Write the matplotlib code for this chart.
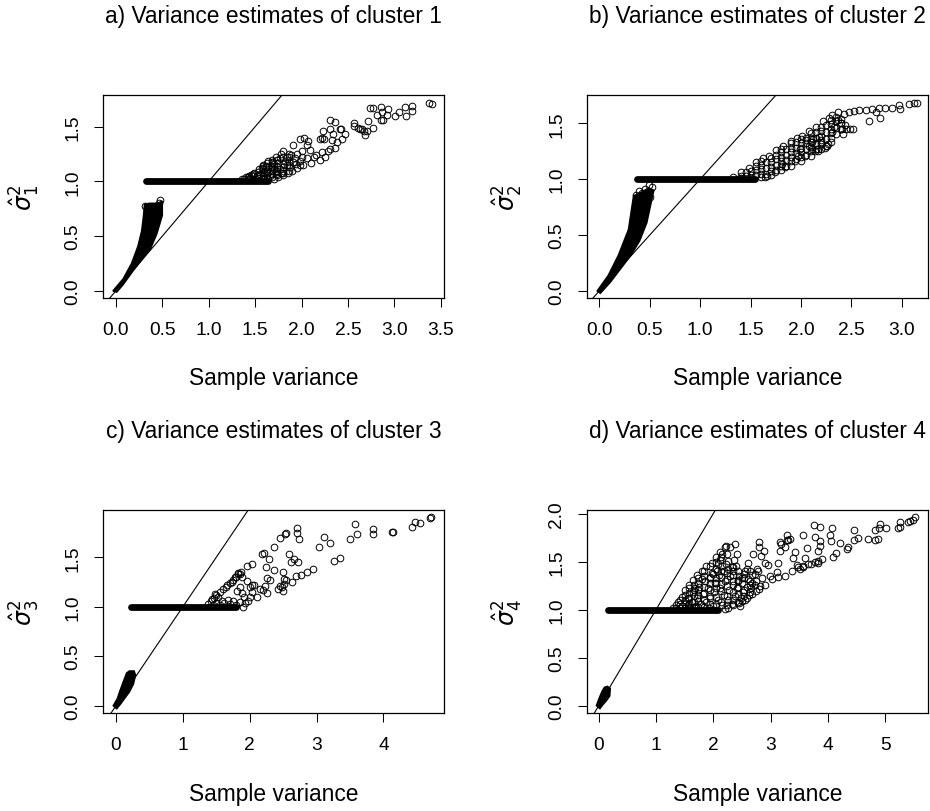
import matplotlib
matplotlib.use("Agg")
from matplotlib import pyplot as plt
from matplotlib.ticker import FormatStrFormatter

plt.rcParams['font.family'] = ['Liberation Sans', 'DejaVu Sans']

# ---- cluster 1 ----
a_x = [3.40, 3.37, 3.19, 3.19, 3.11, 3.12, 3.05, 3.01, 2.93, 2.92, 2.85, 2.87, 2.85, 2.77, 2.74,
       2.81, 2.88, 2.77, 2.72, 2.68, 2.67, 2.65, 2.61, 2.56, 2.36, 2.31, 2.41, 2.47, 2.34, 2.31,
       2.23, 2.20, 2.22, 2.33, 2.43, 2.38, 2.36, 2.31, 2.28, 2.22, 2.16, 2.07, 1.98, 2.03, 2.06,
       2.09, 2.00, 1.95, 1.91, 1.89, 1.84, 1.80, 1.78, 1.77, 1.73, 1.70, 1.64, 1.59, 1.54, 1.49,
       1.43, 1.40, 1.70, 1.77, 1.84, 1.91, 1.98, 2.06, 2.13, 1.98, 1.66, 1.73, 1.63, 1.55, 1.52,
       1.70, 1.75, 1.80, 1.85, 1.90, 1.95, 2.02, 2.10, 2.20, 2.25, 1.36, 1.45, 1.50, 1.58, 1.60,
       1.46, 1.57, 1.62, 1.67, 1.68, 1.75, 1.82, 1.86, 1.93, 2.00, 1.88, 1.94, 1.80, 1.72, 1.78,
       2.42, 2.56, 2.63, 2.70, 2.24, 0.32, 0.34, 0.36, 0.46, 0.48]
a_y = [1.71, 1.72, 1.69, 1.64, 1.68, 1.60, 1.63, 1.60, 1.66, 1.61, 1.68, 1.63, 1.56, 1.67, 1.67,
       1.61, 1.56, 1.49, 1.55, 1.42, 1.46, 1.48, 1.49, 1.53, 1.54, 1.56, 1.48, 1.43, 1.43, 1.48,
       1.46, 1.39, 1.40, 1.38, 1.39, 1.36, 1.31, 1.30, 1.28, 1.27, 1.24, 1.37, 1.39, 1.40, 1.33,
       1.29, 1.28, 1.25, 1.33, 1.24, 1.22, 1.28, 1.25, 1.21, 1.22, 1.16, 1.19, 1.15, 1.11, 1.08,
       1.05, 1.04, 1.11, 1.11, 1.15, 1.18, 1.19, 1.21, 1.22, 1.15, 1.05, 1.07, 1.08, 1.07, 1.05,
       1.02, 1.04, 1.06, 1.08, 1.10, 1.12, 1.15, 1.17, 1.20, 1.22, 1.02, 1.03, 1.02, 1.03, 1.09,
       1.06, 1.12, 1.14, 1.13, 1.18, 1.17, 1.19, 1.25, 1.21, 1.22, 1.13, 1.16, 1.13, 1.09, 1.08,
       1.48, 1.51, 1.48, 1.46, 1.39, 0.78, 0.76, 0.74, 0.80, 0.83]
# crowded wedge just above the plateau
a_wedge_x = [1.38, 1.42, 1.42, 1.48, 1.48, 1.48, 1.53, 1.53, 1.53, 1.58, 1.58, 1.58, 1.58, 1.58,
             1.63, 1.63, 1.63, 1.63, 1.63, 1.68, 1.68, 1.68, 1.68, 1.68, 1.68, 1.74, 1.74, 1.74,
             1.74, 1.80, 1.80, 1.80, 1.80, 1.86, 1.86, 1.86, 1.86]
a_wedge_y = [1.02, 1.02, 1.04, 1.02, 1.05, 1.07, 1.03, 1.06, 1.09, 1.02, 1.05, 1.08, 1.11, 1.14,
             1.03, 1.06, 1.10, 1.13, 1.17, 1.04, 1.07, 1.10, 1.14, 1.17, 1.20, 1.06, 1.10, 1.13,
             1.20, 1.08, 1.10, 1.16, 1.22, 1.10, 1.15, 1.18, 1.22]
a_band_x = [-0.03, 0.08, 0.17, 0.24, 0.28, 0.30, 0.31, 0.36, 0.45, 0.50, 0.50, 0.44, 0.37, 0.30, 0.19, 0.08, 0.01]
a_band_y = [0.00, 0.11, 0.25, 0.41, 0.55, 0.69, 0.79, 0.80, 0.80, 0.82, 0.69, 0.52, 0.38, 0.31, 0.19, 0.06, -0.01]
a_flat = [0.33, 1.64]

# ---- cluster 2 ----
b_x = [1.33, 1.40, 1.48, 1.55, 1.62, 1.68, 1.75, 1.82, 1.90, 1.96, 2.01, 2.08, 2.15, 2.22, 2.28,
       2.31, 2.37, 2.43, 2.48, 2.53, 2.58, 2.64, 2.70, 2.77, 2.83, 2.90, 2.97, 3.07, 3.12, 3.15,
       1.64, 1.74, 1.84, 1.94, 2.04, 2.17,
       1.45, 1.45, 1.55, 1.55, 1.55, 1.65, 1.65, 1.65, 1.75, 1.75, 1.75, 1.75, 1.85, 1.85, 1.85,
       1.85, 1.95, 1.95, 1.95, 1.95, 2.05, 2.05, 2.05, 2.05, 2.15, 2.15, 2.15, 2.15, 2.25, 2.25,
       2.25, 2.25, 2.35, 2.35, 2.35, 2.35,
       1.66, 1.81, 1.97, 1.99, 2.11, 2.12, 2.27, 2.31, 2.42, 2.45, 2.52, 2.67, 2.78, 2.74, 2.98,
       2.26, 2.24, 2.14, 2.44, 2.41, 2.37, 2.40, 2.33, 2.20, 2.18, 2.08, 2.05, 2.49, 2.17, 2.11,
       0.36, 0.39, 0.42, 0.45, 0.49, 0.52, 0.37, 0.50]
b_y = [1.02, 1.06, 1.10, 1.15, 1.19, 1.21, 1.26, 1.30, 1.34, 1.37, 1.39, 1.43, 1.47, 1.52, 1.55,
       1.57, 1.60, 1.58, 1.60, 1.61, 1.62, 1.62, 1.63, 1.64, 1.64, 1.64, 1.66, 1.67, 1.68, 1.68,
       1.02, 1.06, 1.11, 1.16, 1.21, 1.25,
       1.03, 1.06, 1.04, 1.08, 1.12, 1.05, 1.10, 1.15, 1.08, 1.13, 1.18, 1.22, 1.12, 1.17, 1.22,
       1.27, 1.18, 1.23, 1.28, 1.33, 1.22, 1.27, 1.32, 1.37, 1.27, 1.32, 1.37, 1.42, 1.30, 1.36,
       1.42, 1.48, 1.40, 1.46, 1.52, 1.56,
       1.03, 1.14, 1.21, 1.27, 1.27, 1.36, 1.31, 1.42, 1.40, 1.45, 1.45, 1.52, 1.55, 1.60, 1.63,
       1.30, 1.28, 1.25, 1.48, 1.45, 1.53, 1.50, 1.47, 1.33, 1.38, 1.30, 1.35, 1.45, 1.27, 1.33,
       0.86, 0.89, 0.88, 0.91, 0.95, 0.93, 0.80, 0.84]
b_wedge_x = [1.40, 1.40, 1.50, 1.50, 1.50, 1.60, 1.60, 1.60, 1.60, 1.60, 1.70, 1.70, 1.70, 1.70,
             1.70, 1.80, 1.80, 1.80, 1.80, 1.80, 1.80, 1.90, 1.90, 1.90, 1.90, 1.90, 1.90, 2.00,
             2.00, 2.00, 2.00, 2.00, 2.00, 2.10, 2.10, 2.10, 2.10, 2.10, 2.10, 2.20, 2.20, 2.20,
             2.20, 2.20, 2.20, 2.30, 2.30, 2.30, 2.30, 2.30, 2.30, 2.40, 2.40, 2.40]
b_wedge_y = [1.01, 1.03, 1.01, 1.04, 1.07, 1.02, 1.05, 1.09, 1.13, 1.16, 1.04, 1.07, 1.11, 1.15,
             1.19, 1.08, 1.12, 1.16, 1.20, 1.24, 1.27, 1.12, 1.16, 1.20, 1.24, 1.28, 1.32, 1.16,
             1.20, 1.24, 1.28, 1.32, 1.36, 1.21, 1.25, 1.29, 1.33, 1.37, 1.41, 1.27, 1.31, 1.35,
             1.39, 1.43, 1.47, 1.33, 1.37, 1.41, 1.45, 1.49, 1.53, 1.45, 1.50, 1.54]
b_band_x = [-0.02, 0.09, 0.19, 0.29, 0.32, 0.34, 0.39, 0.49, 0.54, 0.52, 0.47, 0.40, 0.32, 0.22, 0.11, 0.01]
b_band_y = [0.00, 0.14, 0.32, 0.55, 0.73, 0.85, 0.87, 0.92, 0.90, 0.82, 0.61, 0.45, 0.33, 0.21, 0.08, -0.02]
b_flat = [0.37, 1.545]

# ---- cluster 3 ----
c_x = [4.71, 4.69, 4.55, 4.47, 4.42, 4.15, 4.13, 3.85, 3.85, 3.61, 3.58, 3.50, 3.35, 3.26, 3.20,
       3.11, 3.03, 2.94, 2.86, 2.77, 2.69, 2.73, 2.71, 2.71, 2.72, 2.66, 2.62, 2.59, 2.63, 2.55,
       2.53, 2.46, 2.36, 2.50, 2.51, 2.52, 2.48, 2.43, 2.37, 2.31, 2.26, 2.24, 2.29, 2.21, 2.19,
       2.03, 1.96, 2.23, 2.26, 2.20, 2.11, 2.03, 2.01, 1.96, 1.88, 1.83, 1.78, 1.73, 1.66, 1.81,
       1.88, 1.91, 1.98, 1.93, 1.90, 1.75, 1.67, 1.59, 1.53, 1.48, 1.43, 1.86, 2.03,
       1.38, 1.42, 1.46, 1.50, 1.55, 1.60, 1.64, 1.70, 1.75, 1.80, 1.85, 1.87, 1.82,
       1.45, 1.50, 1.56, 1.62, 1.70, 1.80, 1.85, 2.00, 2.16, 2.55, 2.50, 2.46, 2.07]
c_y = [1.905, 1.90, 1.85, 1.86, 1.81, 1.76, 1.76, 1.79, 1.73, 1.73, 1.84, 1.68, 1.49, 1.46, 1.64,
       1.70, 1.60, 1.38, 1.35, 1.32, 1.31, 1.68, 1.74, 1.80, 1.45, 1.48, 1.45, 1.53, 1.25, 1.74,
       1.73, 1.69, 1.60, 1.35, 1.28, 1.23, 1.20, 1.18, 1.37, 1.27, 1.29, 1.40, 1.48, 1.54, 1.53,
       1.43, 1.41, 1.21, 1.14, 1.17, 1.10, 1.15, 1.20, 1.26, 1.30, 1.33, 1.30, 1.25, 1.22, 1.16,
       1.14, 1.10, 1.06, 1.04, 1.00, 1.06, 1.07, 1.06, 1.10, 1.13, 1.08, 1.20, 1.22,
       1.03, 1.06, 1.09, 1.12, 1.15, 1.18, 1.20, 1.24, 1.27, 1.30, 1.33, 1.35, 1.34,
       1.02, 1.04, 1.02, 1.04, 1.03, 1.02, 1.05, 1.10, 1.18, 1.27, 1.16, 1.21, 1.22]
c_band_x = [-0.04, 0.02, 0.06, 0.12, 0.16, 0.20, 0.27, 0.29, 0.26, 0.20, 0.14, 0.07, 0.01]
c_band_y = [0.00, 0.07, 0.15, 0.26, 0.33, 0.35, 0.35, 0.31, 0.22, 0.14, 0.085, 0.02, -0.03]
c_flat = [0.22, 1.80]

# ---- cluster 4 ----
d_x = [5.52, 5.49, 5.44, 5.40, 5.26, 5.26, 5.23, 5.01, 4.91, 4.89, 4.82, 4.87, 4.82, 4.71, 4.53,
       4.46, 4.45, 4.36, 4.33, 4.21, 4.15, 4.09, 4.07, 4.04, 4.06, 3.90, 3.86, 3.86, 3.83, 3.83,
       3.77, 3.75, 3.86, 3.70, 3.65, 3.63, 3.61, 3.57, 3.57, 3.51, 3.46, 3.40, 3.43, 3.34, 3.28,
       3.28, 3.31, 3.25, 3.19, 3.16, 3.16, 3.13, 3.11, 2.99, 2.96, 2.90, 2.89, 2.84, 2.79, 2.80,
       2.76, 2.73, 2.67, 2.70, 2.61, 2.58, 2.50, 2.44, 2.41, 2.38, 2.37, 2.32, 2.26, 2.29, 2.20,
       2.15, 2.12, 2.09, 2.06, 2.00, 1.94, 2.03, 2.15, 2.19, 2.90, 3.02, 3.13, 3.25, 3.37, 3.48,
       3.57, 3.77, 3.83,
       1.30, 1.38, 1.45, 1.51, 1.58, 1.65, 1.72, 1.80, 1.88, 1.97, 2.05, 2.12, 2.23,
       2.20, 2.26, 2.35, 2.45, 2.50, 2.58, 2.67, 2.75, 2.79,
       1.45, 1.55, 1.55, 1.62, 1.65, 1.70, 1.72, 1.75, 1.78, 1.82, 1.85, 1.88, 1.90, 1.95, 1.98,
       2.00, 2.02, 2.05, 2.08, 2.10, 2.12, 2.15, 2.18, 2.20, 2.25, 2.25, 2.28, 2.30, 2.33, 2.35,
       2.38, 2.40, 2.42, 2.45, 2.48, 2.50, 2.52, 2.55, 2.58, 2.60, 2.62, 2.65, 2.68, 2.72, 2.75,
       2.78, 2.82, 2.85, 1.60, 1.68, 1.80, 1.92, 2.22, 2.35, 2.46, 2.55]
d_y = [1.965, 1.93, 1.92, 1.91, 1.91, 1.86, 1.85, 1.85, 1.89, 1.85, 1.83, 1.74, 1.73, 1.74, 1.75,
       1.83, 1.72, 1.65, 1.63, 1.69, 1.59, 1.55, 1.85, 1.78, 1.71, 1.53, 1.71, 1.66, 1.61, 1.49,
       1.76, 1.88, 1.86, 1.48, 1.47, 1.64, 1.54, 1.78, 1.44, 1.42, 1.46, 1.54, 1.60, 1.74, 1.78,
       1.73, 1.72, 1.65, 1.68, 1.70, 1.61, 1.49, 1.39, 1.35, 1.46, 1.49, 1.61, 1.56, 1.70, 1.65,
       1.42, 1.37, 1.28, 1.58, 1.49, 1.42, 1.33, 1.31, 1.58, 1.68, 1.52, 1.44, 1.51, 1.65, 1.65,
       1.58, 1.52, 1.47, 1.40, 1.37, 1.33, 1.28, 1.45, 1.40, 1.26, 1.32, 1.34, 1.35, 1.40, 1.44,
       1.45, 1.50, 1.51,
       1.02, 1.08, 1.13, 1.20, 1.26, 1.31, 1.36, 1.40, 1.45, 1.49, 1.55, 1.60, 1.66,
       1.01, 1.02, 1.05, 1.07, 1.09, 1.12, 1.16, 1.19, 1.21,
       1.04, 1.05, 1.12, 1.08, 1.18, 1.04, 1.12, 1.24, 1.06, 1.16, 1.30, 1.08, 1.22, 1.12, 1.38,
       1.04, 1.18, 1.28, 1.10, 1.36, 1.22, 1.05, 1.15, 1.30, 1.10, 1.42, 1.20, 1.35, 1.06, 1.26,
       1.14, 1.45, 1.22, 1.35, 1.12, 1.28, 1.18, 1.40, 1.24, 1.32, 1.15, 1.22, 1.36, 1.26, 1.30,
       1.40, 1.25, 1.33, 1.02, 1.22, 1.32, 1.02, 1.48, 1.40, 1.04, 1.10]
d_wedge_x = [1.35, 1.35, 1.42, 1.42, 1.42, 1.50, 1.50, 1.50, 1.50, 1.58, 1.58, 1.58, 1.58, 1.58,
             1.66, 1.66, 1.66, 1.66, 1.66, 1.74, 1.74, 1.74, 1.74, 1.74, 1.74, 1.84, 1.84, 1.84,
             1.84, 1.84, 1.84, 1.94, 1.94, 1.94, 1.94, 1.94, 1.94, 2.04, 2.04, 2.04, 2.04, 2.04,
             2.04, 2.14, 2.14, 2.14, 2.14, 2.14, 2.14, 2.24, 2.24, 2.24, 2.24, 2.24, 2.24, 2.34,
             2.34, 2.34, 2.34, 2.34, 2.44, 2.44, 2.44, 2.44, 2.44, 2.54, 2.54, 2.54, 2.54, 2.64,
             2.64, 2.64, 2.64]
d_wedge_y = [1.02, 1.05, 1.02, 1.06, 1.10, 1.02, 1.06, 1.10, 1.15, 1.03, 1.07, 1.12, 1.17, 1.22,
             1.03, 1.08, 1.14, 1.20, 1.26, 1.03, 1.09, 1.15, 1.20, 1.28, 1.33, 1.03, 1.10, 1.17,
             1.24, 1.35, 1.40, 1.06, 1.14, 1.20, 1.28, 1.34, 1.45, 1.06, 1.13, 1.22, 1.33, 1.42,
             1.50, 1.08, 1.19, 1.27, 1.34, 1.40, 1.55, 1.05, 1.14, 1.25, 1.32, 1.38, 1.58, 1.10,
             1.18, 1.30, 1.36, 1.44, 1.08, 1.16, 1.24, 1.30, 1.40, 1.14, 1.20, 1.33, 1.37, 1.18,
             1.26, 1.30, 1.40]
d_band_x = [-0.04, 0.01, 0.06, 0.10, 0.15, 0.20, 0.19, 0.13, 0.07, 0.02]
d_band_y = [0.00, 0.08, 0.15, 0.19, 0.20, 0.18, 0.10, 0.05, 0.01, -0.03]
d_flat = [0.155, 2.09]

titles = ["a) Variance estimates of cluster 1", "b) Variance estimates of cluster 2",
          "c) Variance estimates of cluster 3", "d) Variance estimates of cluster 4"]
ylabels = [r"$\hat{\sigma}_1^2$", r"$\hat{\sigma}_2^2$", r"$\hat{\sigma}_3^2$", r"$\hat{\sigma}_4^2$"]


def draw_panel(ax, title, ylab, sx, sy, band_x, band_y, flat, xticks, yticks, xlim, ylim, fmt):
    # overlapping points near the origin and at 1.0 merge into solid shapes
    ax.fill(band_x, band_y, color="black", lw=1.2)
    ax.plot(flat, [1.0, 1.0], color="black", lw=4.9, solid_capstyle="round")
    ax.plot(sx, sy, "o", mfc="none", mec="black", ms=4.8, mew=0.7)
    ax.axline((0, 0), slope=1, color="black", lw=0.8)

    ax.set_xlim(xlim)
    ax.set_ylim(ylim)
    ax.set_xticks(xticks)
    ax.set_yticks(yticks)
    ax.xaxis.set_major_formatter(FormatStrFormatter(fmt))
    ax.yaxis.set_major_formatter(FormatStrFormatter("%.1f"))
    ax.tick_params(direction="out", length=6.5, width=0.75, labelsize=13.8, pad=10)
    ax.tick_params(axis="y", labelrotation=90, pad=9)
    for lab in ax.get_yticklabels():
        lab.set_va("center")
    for s in ax.spines.values():
        s.set_linewidth(0.9)

    ax.text(0.5, 1.39, title, transform=ax.transAxes, ha="center", va="center", fontsize=16.4)
    ax.text(0.5, -0.394, "Sample variance", transform=ax.transAxes, ha="center", va="center", fontsize=16.4)
    ax.text(-0.23, 0.5, ylab, transform=ax.transAxes, ha="center", va="center", rotation=90, fontsize=17)


fig = plt.figure(figsize=(9.3, 8.12), dpi=100)
ax_a = fig.add_axes([0.1108, 0.6318, 0.3667, 0.25])
ax_b = fig.add_axes([0.6309, 0.6318, 0.367, 0.25])
ax_c = fig.add_axes([0.1108, 0.1203, 0.3667, 0.2507])
ax_d = fig.add_axes([0.6309, 0.1203, 0.367, 0.2507])

draw_panel(ax_a, titles[0], ylabels[0], a_x + a_wedge_x, a_y + a_wedge_y, a_band_x, a_band_y, a_flat,
           [0, 0.5, 1, 1.5, 2, 2.5, 3, 3.5], [0, 0.5, 1, 1.5], (-0.137, 3.534), (-0.064, 1.79), "%.1f")
draw_panel(ax_b, titles[1], ylabels[1], b_x + b_wedge_x, b_y + b_wedge_y, b_band_x, b_band_y, b_flat,
           [0, 0.5, 1, 1.5, 2, 2.5, 3], [0, 0.5, 1, 1.5], (-0.125, 3.26), (-0.063, 1.753), "%.1f")
draw_panel(ax_c, titles[2], ylabels[2], c_x, c_y, c_band_x, c_band_y, c_flat,
           [0, 1, 2, 3, 4], [0, 0.5, 1, 1.5], (-0.194, 4.907), (-0.077, 1.98), "%d")
draw_panel(ax_d, titles[3], ylabels[3], d_x + d_wedge_x, d_y + d_wedge_y, d_band_x, d_band_y, d_flat,
           [0, 1, 2, 3, 4, 5], [0, 0.5, 1, 1.5, 2], (-0.21, 5.75), (-0.08, 2.04), "%d")

fig.savefig("out.png", dpi=100)
